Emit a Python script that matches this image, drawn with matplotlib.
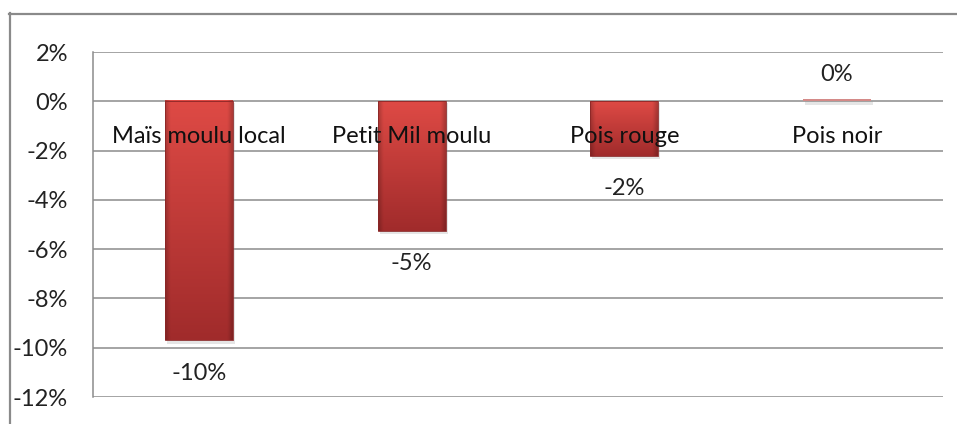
import matplotlib
matplotlib.use("Agg")
import matplotlib.pyplot as plt
import numpy as np
from matplotlib.patches import Rectangle
from matplotlib.lines import Line2D

# data
categories = ["Maïs moulu local", "Petit Mil moulu", "Pois rouge", "Pois noir"]
values = [-9.7, -5.25, -2.2, 0.05]
value_labels = ["-10%", "-5%", "-2%", "0%"]
yticks = [2, 0, -2, -4, -6, -8, -10, -12]

plt.rcParams['font.family'] = ['Lato', 'DejaVu Sans']
FS = 17

fig = plt.figure(figsize=(9.57, 4.24), dpi=100)
ax = fig.add_axes([93 / 957, 1 - 397 / 424, (943 - 93) / 957, (397 - 52) / 424])

x = np.arange(len(categories))
width = 0.32
ax.set_xlim(-0.5, len(categories) - 0.5)
ax.set_ylim(-12, 2)

# gradient image used to fill each bar
ny, nx = 60, 40
vy = np.linspace(0, 1, ny)[:, None]
vx = np.linspace(0, 1, nx)[None, :]
top = np.array([0.87, 0.29, 0.27])
bot = np.array([0.63, 0.17, 0.17])
base = top + (bot - top) * vy[..., None]
edge = 1 - 0.2 * (np.clip(1 - np.minimum(vx, 1 - vx) / 0.07, 0, 1))[..., None]
img = np.clip(base * edge, 0, 1)

bars = ax.bar(x, values, width, color='none', edgecolor='none', zorder=3)
for b, v in zip(bars, values):
    x0, y0 = b.get_x(), b.get_y()
    w, h = b.get_width(), b.get_height()
    ylo, yhi = min(y0, y0 + h), max(y0, y0 + h)
    # soft shadow
    ax.add_patch(Rectangle((x0 + 0.01, ylo - 0.15), w, yhi - ylo + 0.1,
                           facecolor='#999999', alpha=0.25, edgecolor='none', zorder=2))
    if abs(v) < 0.2:
        ax.add_patch(Rectangle((x0, 0), w, 0.08, facecolor='#d48a88',
                               edgecolor='none', zorder=3))
        continue
    ax.imshow(img, extent=(x0, x0 + w, ylo, yhi), origin='upper',
              aspect='auto', zorder=3, interpolation='bilinear')
    ax.add_patch(Rectangle((x0, ylo), w, yhi - ylo, facecolor='none',
                           edgecolor='#8a2626', linewidth=0.6, zorder=4))

for xi, v, lab in zip(x, values, value_labels):
    ypos = v - 1.35 if v < 0 else v + 1.05
    ax.text(xi, ypos, lab, ha='center', va='center', fontsize=FS, color='#222222', zorder=5)

for xi, cat in zip(x, categories):
    ax.text(xi, -1.42, cat, ha='center', va='center', fontsize=FS, color='#111111', zorder=5)

ax.set_xticks([])
ax.set_yticks(yticks)
ax.set_yticklabels([f"{t}%" for t in yticks], fontsize=FS, color='#222222')
ax.tick_params(axis='y', length=0, pad=18)
ax.yaxis.grid(True, color='#8c8c8c', linewidth=1.1)
ax.set_axisbelow(True)
for s in ['top', 'right', 'bottom']:
    ax.spines[s].set_visible(False)
ax.spines['left'].set_color('#8c8c8c')
ax.spines['left'].set_linewidth(1.1)

# outer chart frame (top and left edges visible)
fig.add_artist(Line2D([9.5 / 957, 9.5 / 957], [0, 1 - 13 / 424], color='#8a8a8a', lw=1.6))
fig.add_artist(Line2D([9 / 957, 1], [1 - 13.5 / 424, 1 - 13.5 / 424], color='#8a8a8a', lw=1.6))

fig.savefig("out.png", dpi=100)
